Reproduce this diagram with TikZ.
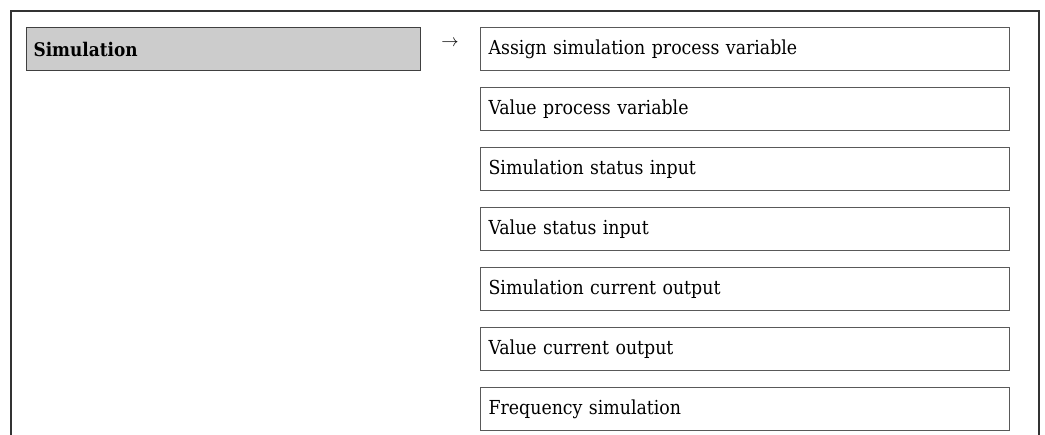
\documentclass[tikz,border=0pt]{standalone}
\usepackage{fontspec}
\setmainfont{DejaVu Serif Condensed}
\begin{document}
\begin{tikzpicture}[x=1pt,y=-1pt,
  frameline/.style={line width=1.2pt,draw=black!80},
  parambox/.style={draw=black!65,line width=1.2pt,minimum width=529pt,minimum height=43pt,
    anchor=north west,inner sep=0pt,text width=513pt,align=left,font=\fontsize{19.3}{22}\selectfont},
  menubox/.style={draw=black!75,fill=black!20,line width=1.2pt,minimum width=394pt,minimum height=43pt,
    anchor=north west,inner sep=0pt,text width=380pt,align=left,font=\bfseries\fontsize{18.8}{22}\selectfont},
  arrowtxt/.style={font=\fontsize{17}{20}\selectfont}]
\useasboundingbox (0,0) rectangle (1045,435);
\draw[frameline] (11,435) -- (11,11) -- (1039,11) -- (1039,435);
\node[menubox] (sim) at (26,27) {Simulation};
\node[arrowtxt] (arr) at (450,43) {$\rightarrow$};
\node[parambox] (p1) at (480,27) {Assign simulation process variable};
\node[parambox] (p2) at (480,87) {Value process variable};
\node[parambox] (p3) at (480,147) {Simulation status input};
\node[parambox] (p4) at (480,207) {Value status input};
\node[parambox] (p5) at (480,267) {Simulation current output};
\node[parambox] (p6) at (480,327) {Value current output};
\node[parambox] (p7) at (480,387) {Frequency simulation};
\end{tikzpicture}
\end{document}
